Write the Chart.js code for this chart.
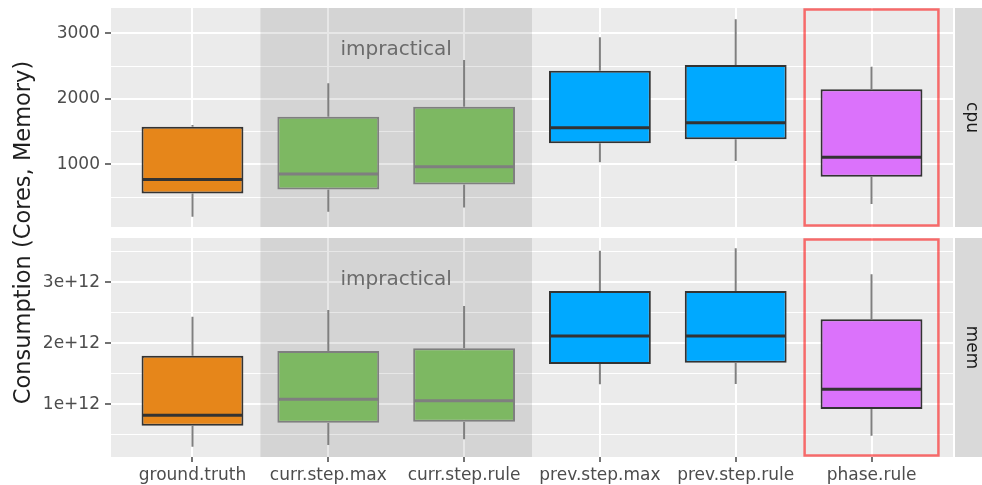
<!DOCTYPE html>
<html>
<head>
<meta charset="utf-8">
<script src="https://cdn.jsdelivr.net/npm/chart.js@4.4.1/dist/chart.umd.min.js"></script>
<style>
  html, body { margin: 0; padding: 0; background: #ffffff; }
  #wrap { position: relative; width: 982px; height: 485px; }
  #wrap canvas { position: absolute; left: 0; top: 0; }
</style>
</head>
<body>
<div id="wrap">
  <canvas id="memChart" width="982" height="485"></canvas>
  <canvas id="cpuChart" width="982" height="485"></canvas>
</div>
<script>
const FONT = "'DejaVu Sans', 'Liberation Sans', sans-serif";

const categories = ['ground.truth', 'curr.step.max', 'curr.step.rule', 'prev.step.max', 'prev.step.rule', 'phase.rule'];

// CPU consumption (cores): five-number summaries per strategy
const cpuMin = [200, 276, 344, 1031, 1050, 394];
const cpuQ1  = [557, 618, 695, 1321, 1382, 811];
const cpuMed = [771, 852, 963, 1559, 1635, 1107];
const cpuQ3  = [1574, 1727, 1879, 2429, 2516, 2145];
const cpuMax = [1600, 2237, 2592, 2939, 3214, 2490];

// Memory consumption: five-number summaries per strategy
const memMin = [3.05e11, 3.33e11, 4.26e11, 1.328e12, 1.333e12, 4.85e11];
const memQ1  = [6.49e11, 6.98e11, 7.15e11, 1.661e12, 1.682e12, 9.23e11];
const memMed = [8.20e11, 1.082e12, 1.059e12, 2.120e12, 2.120e12, 1.246e12];
const memQ3  = [1.797e12, 1.874e12, 1.918e12, 2.857e12, 2.857e12, 2.393e12];
const memMax = [2.436e12, 2.546e12, 2.611e12, 3.518e12, 3.557e12, 3.131e12];

// Axis ticks
const cpuTicks = [1000, 2000, 3000];
const cpuTickLabels = ['1000', '2000', '3000'];
const cpuMinorTicks = [500, 1500, 2500];
const memTicks = [1e12, 2e12, 3e12];
const memTickLabels = ['1e+12', '2e+12', '3e+12'];
const memMinorTicks = [5e11, 1.5e12, 2.5e12, 3.5e12];

const cpuRange = [45, 3385];
const memRange = [1.36e11, 3.726e12];

// Groups marked on the plot
const impracticalGroup = ['curr.step.max', 'curr.step.rule'];
const highlighted = 'phase.rule';

// Styling
const fills    = ['#E6861A', '#7DB862', '#7DB862', '#00A9FF', '#00A9FF', '#DB72FB'];
const outlines = ['#333333', '#7F7F7F', '#7F7F7F', '#333333', '#333333', '#333333'];
const whiskerColor = '#7F7F7F';

function panelDecor(info) {
  const pos = name => categories.indexOf(name) + 1;
  return {
    id: 'panelDecor',
    beforeDraw(chart) {
      const { ctx, chartArea: a } = chart;
      ctx.save();
      ctx.fillStyle = '#EBEBEB';
      ctx.fillRect(a.left, a.top, a.right - a.left, a.bottom - a.top);
      // facet strip on the right
      ctx.fillStyle = '#D9D9D9';
      ctx.fillRect(a.right + 2, a.top, chart.width - a.right - 2, a.bottom - a.top);
      ctx.translate(a.right + 14, (a.top + a.bottom) / 2);
      ctx.rotate(Math.PI / 2);
      ctx.fillStyle = '#1A1A1A';
      ctx.font = '17px ' + FONT;
      ctx.textAlign = 'center';
      ctx.textBaseline = 'alphabetic';
      ctx.fillText(info.strip, 0, 0);
      ctx.restore();
    },
    beforeDatasetsDraw(chart) {
      const { ctx, chartArea: a, scales: { x, y } } = chart;
      ctx.save();
      // shaded band behind the impractical strategies
      const first = pos(impracticalGroup[0]);
      const last = pos(impracticalGroup[impracticalGroup.length - 1]);
      const x0 = x.getPixelForValue(first - 0.5);
      const x1 = x.getPixelForValue(last + 0.5);
      ctx.fillStyle = 'rgba(0,0,0,0.095)';
      ctx.fillRect(x0, a.top, x1 - x0, a.bottom - a.top);
      // whiskers
      ctx.strokeStyle = whiskerColor;
      ctx.lineWidth = 2;
      categories.forEach((c, i) => {
        const cx = x.getPixelForValue(i + 1);
        ctx.beginPath();
        ctx.moveTo(cx, y.getPixelForValue(info.max[i]));
        ctx.lineTo(cx, y.getPixelForValue(info.q3[i]));
        ctx.moveTo(cx, y.getPixelForValue(info.q1[i]));
        ctx.lineTo(cx, y.getPixelForValue(info.min[i]));
        ctx.stroke();
      });
      ctx.restore();
    },
    afterDatasetsDraw(chart) {
      const { ctx, chartArea: a, scales: { x, y } } = chart;
      const bars = chart.getDatasetMeta(0).data;
      ctx.save();
      // medians
      ctx.lineWidth = 3;
      categories.forEach((c, i) => {
        const el = bars[i];
        const my = y.getPixelForValue(info.med[i]);
        ctx.strokeStyle = outlines[i];
        ctx.beginPath();
        ctx.moveTo(el.x - el.width / 2 + 1, my);
        ctx.lineTo(el.x + el.width / 2 - 1, my);
        ctx.stroke();
      });
      // label for the shaded band
      const first = pos(impracticalGroup[0]);
      const last = pos(impracticalGroup[impracticalGroup.length - 1]);
      ctx.fillStyle = '#6B6B6B';
      ctx.font = '20px ' + FONT;
      ctx.textAlign = 'center';
      ctx.textBaseline = 'alphabetic';
      ctx.fillText('impractical', x.getPixelForValue((first + last) / 2), a.top + 47);
      // outline around the highlighted strategy
      const h = pos(highlighted);
      const hx0 = x.getPixelForValue(h - 0.5);
      const hx1 = x.getPixelForValue(h + 0.5);
      ctx.strokeStyle = 'rgba(255,0,0,0.55)';
      ctx.lineWidth = 2.5;
      ctx.strokeRect(hx0 + 1, a.top + 1.5, hx1 - hx0 - 2, a.bottom - a.top - 3);
      ctx.restore();
    },
    afterDraw(chart) {
      if (!info.title) return;
      const { ctx } = chart;
      ctx.save();
      ctx.translate(29.5, 232.5);
      ctx.rotate(-Math.PI / 2);
      ctx.fillStyle = '#1F1F1F';
      ctx.font = '22.5px ' + FONT;
      ctx.textAlign = 'center';
      ctx.textBaseline = 'alphabetic';
      ctx.fillText(info.title, 0, 0);
      ctx.restore();
    }
  };
}

function makePanel(id, info, bottom) {
  const allTicks = info.ticks.concat(info.minor).sort((p, q) => p - q);
  return new Chart(document.getElementById(id), {
    type: 'bar',
    data: {
      datasets: [{
        data: categories.map((c, i) => ({ x: i + 1, y: [info.q1[i], info.q3[i]] })),
        backgroundColor: fills,
        borderColor: outlines,
        borderWidth: 2,
        borderSkipped: false,
        barPercentage: 0.75,
        categoryPercentage: 1
      }]
    },
    options: {
      responsive: false,
      animation: false,
      events: [],
      layout: { padding: { top: bottom ? 238 : 8, bottom: bottom ? 0 : 258, left: 0, right: 29 } },
      plugins: { legend: { display: false }, tooltip: { enabled: false } },
      scales: {
        x: {
          type: 'linear',
          min: 0.4,
          max: categories.length + 0.6,
          offset: false,
          afterBuildTicks: ax => { ax.ticks = categories.map((c, i) => ({ value: i + 1 })); },
          afterFit: ax => {
            ax.height = bottom ? 28 : 0;
            ax.paddingLeft = 0;
            ax.paddingRight = 0;
          },
          ticks: {
            display: bottom,
            autoSkip: false,
            maxRotation: 0,
            minRotation: 0,
            padding: 3,
            color: '#4D4D4D',
            font: { family: FONT, size: 17 },
            callback: v => categories[Math.round(v) - 1]
          },
          grid: {
            offset: false,
            color: '#FFFFFF',
            lineWidth: 2,
            drawTicks: bottom,
            tickLength: 5,
            tickColor: '#444444',
            tickWidth: 1.5
          },
          border: { display: false }
        },
        y: {
          min: info.range[0],
          max: info.range[1],
          afterBuildTicks: ax => { ax.ticks = allTicks.map(v => ({ value: v })); },
          afterFit: ax => {
            ax.width = 111;
            ax.paddingTop = 0;
            ax.paddingBottom = 0;
          },
          ticks: {
            padding: 5,
            color: '#4D4D4D',
            font: { family: FONT, size: 17 },
            callback: v => { const k = info.ticks.indexOf(v); return k >= 0 ? info.labels[k] : ''; }
          },
          grid: {
            color: '#FFFFFF',
            lineWidth: c => info.ticks.includes(c.tick.value) ? 2 : 1,
            tickLength: 6,
            tickColor: c => info.ticks.includes(c.tick.value) ? '#444444' : 'rgba(0,0,0,0)',
            tickWidth: 1.5
          },
          border: { display: false }
        }
      }
    },
    plugins: [panelDecor(info)]
  });
}

makePanel('cpuChart', {
  min: cpuMin, q1: cpuQ1, med: cpuMed, q3: cpuQ3, max: cpuMax,
  ticks: cpuTicks, labels: cpuTickLabels, minor: cpuMinorTicks, range: cpuRange,
  strip: 'cpu'
}, false);

makePanel('memChart', {
  min: memMin, q1: memQ1, med: memMed, q3: memQ3, max: memMax,
  ticks: memTicks, labels: memTickLabels, minor: memMinorTicks, range: memRange,
  strip: 'mem', title: 'Consumption (Cores, Memory)'
}, true);
</script>
</body>
</html>
